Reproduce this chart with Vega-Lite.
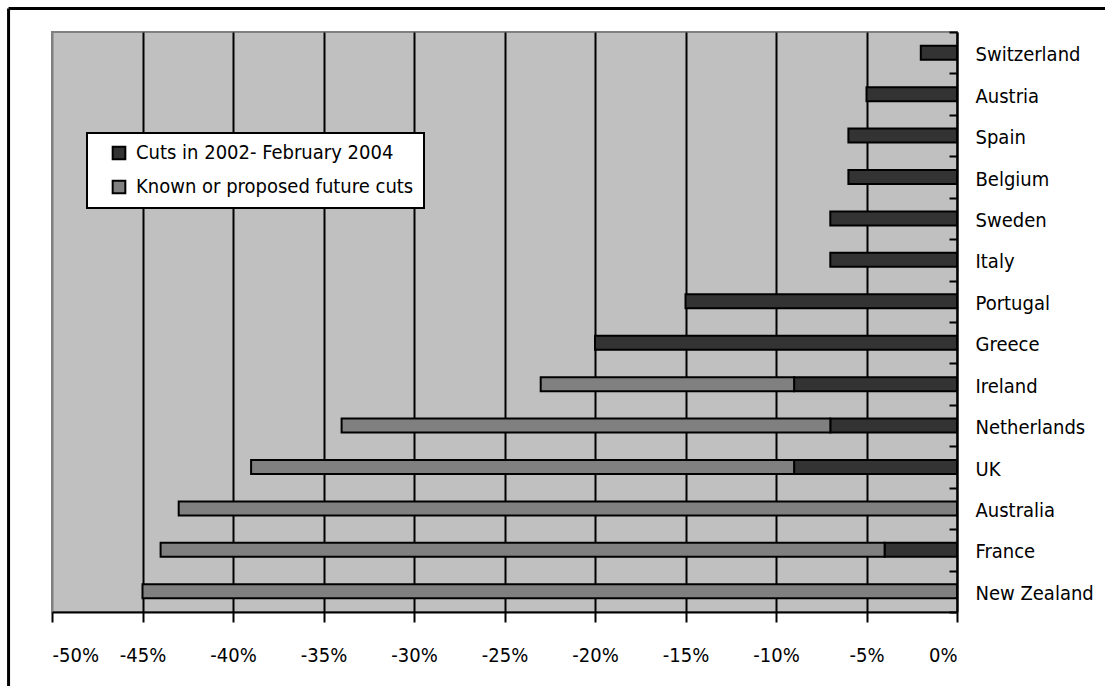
{
  "$schema": "https://vega.github.io/schema/vega-lite/v6.json",
  "width": 905,
  "height": 580,
  "autosize": {"type": "none"},
  "padding": {"left": 52, "top": 32, "right": 148, "bottom": 74},
  "background": "white",
  "config": {
    "font": "DejaVu Sans Condensed",
    "view": {"fill": "#C0C0C0", "stroke": "#808080", "strokeWidth": 2}
  },
  "datasets": {
    "cuts": [
      {"country": "Switzerland", "series": "Cuts in 2002- February 2004", "value": -2},
      {"country": "Austria", "series": "Cuts in 2002- February 2004", "value": -5},
      {"country": "Spain", "series": "Cuts in 2002- February 2004", "value": -6},
      {"country": "Belgium", "series": "Cuts in 2002- February 2004", "value": -6},
      {"country": "Sweden", "series": "Cuts in 2002- February 2004", "value": -7},
      {"country": "Italy", "series": "Cuts in 2002- February 2004", "value": -7},
      {"country": "Portugal", "series": "Cuts in 2002- February 2004", "value": -15},
      {"country": "Greece", "series": "Cuts in 2002- February 2004", "value": -20},
      {"country": "Ireland", "series": "Cuts in 2002- February 2004", "value": -9},
      {"country": "Ireland", "series": "Known or proposed future cuts", "value": -14},
      {"country": "Netherlands", "series": "Cuts in 2002- February 2004", "value": -7},
      {"country": "Netherlands", "series": "Known or proposed future cuts", "value": -27},
      {"country": "UK", "series": "Cuts in 2002- February 2004", "value": -9},
      {"country": "UK", "series": "Known or proposed future cuts", "value": -30},
      {"country": "Australia", "series": "Known or proposed future cuts", "value": -43},
      {"country": "France", "series": "Cuts in 2002- February 2004", "value": -4},
      {"country": "France", "series": "Known or proposed future cuts", "value": -40},
      {"country": "New Zealand", "series": "Known or proposed future cuts", "value": -45}
    ]
  },
  "layer": [
    {
      "data": {"name": "cuts"},
      "mark": {"type": "bar", "size": 14, "stroke": "black", "strokeWidth": 2},
      "encoding": {
        "y": {
          "field": "country",
          "type": "nominal",
          "sort": ["Switzerland", "Austria", "Spain", "Belgium", "Sweden", "Italy", "Portugal", "Greece", "Ireland", "Netherlands", "UK", "Australia", "France", "New Zealand"],
          "scale": {"paddingInner": 0, "paddingOuter": 0},
          "axis": {
            "orient": "right",
            "title": null,
            "domainColor": "black",
            "domainWidth": 2,
            "tickBand": "extent",
            "tickSize": -8,
            "tickColor": "black",
            "tickWidth": 2,
            "labelPadding": 26,
            "labelOffset": 2,
            "labelFontSize": 20,
            "labelColor": "black",
            "labelLimit": 200
          }
        },
        "x": {
          "field": "value",
          "type": "quantitative",
          "stack": "zero",
          "scale": {"domain": [-50, 0], "nice": false},
          "axis": {
            "title": null,
            "values": [-50, -45, -40, -35, -30, -25, -20, -15, -10, -5, 0],
            "labelExpr": "datum.value + '%'",
            "labelFontSize": 20,
            "labelColor": "black",
            "labelPadding": 23,
            "tickSize": 10,
            "tickColor": "black",
            "tickWidth": 2,
            "domainColor": "black",
            "domainWidth": 2,
            "grid": true,
            "gridColor": {"condition": {"test": "datum.value === -50", "value": "#808080"}, "value": "black"},
            "gridWidth": 2,
            "gridOpacity": 1
          }
        },
        "color": {
          "field": "series",
          "type": "nominal",
          "scale": {
            "domain": ["Cuts in 2002- February 2004", "Known or proposed future cuts"],
            "range": ["#333333", "#808080"]
          },
          "legend": {
            "title": null,
            "orient": "none",
            "legendX": 35,
            "legendY": 101,
            "fillColor": "white",
            "strokeColor": "black",
            "padding": 10,
            "symbolOffset": 12,
            "symbolType": "square",
            "symbolSize": 160,
            "symbolStrokeColor": "black",
            "symbolStrokeWidth": 2,
            "symbolOpacity": 1,
            "labelFontSize": 20,
            "labelColor": "black",
            "labelOffset": 7,
            "labelLimit": 400,
            "rowPadding": 12,
            "encode": {"legend": {"update": {"strokeWidth": {"value": 2}}}}
          }
        },
        "order": {"field": "series", "type": "nominal", "sort": "ascending"}
      }
    },
    {
      "data": {"values": [{}]},
      "mark": {"type": "rule", "stroke": "black", "strokeWidth": 3},
      "encoding": {
        "x": {"datum": -52.4},
        "x2": {"datum": 10},
        "y": {"value": -23.5}
      }
    },
    {
      "data": {"values": [{}]},
      "mark": {"type": "rule", "stroke": "black", "strokeWidth": 3},
      "encoding": {
        "x": {"datum": -52.4},
        "y": {"value": -23.5},
        "y2": {"value": 700}
      }
    }
  ]
}
